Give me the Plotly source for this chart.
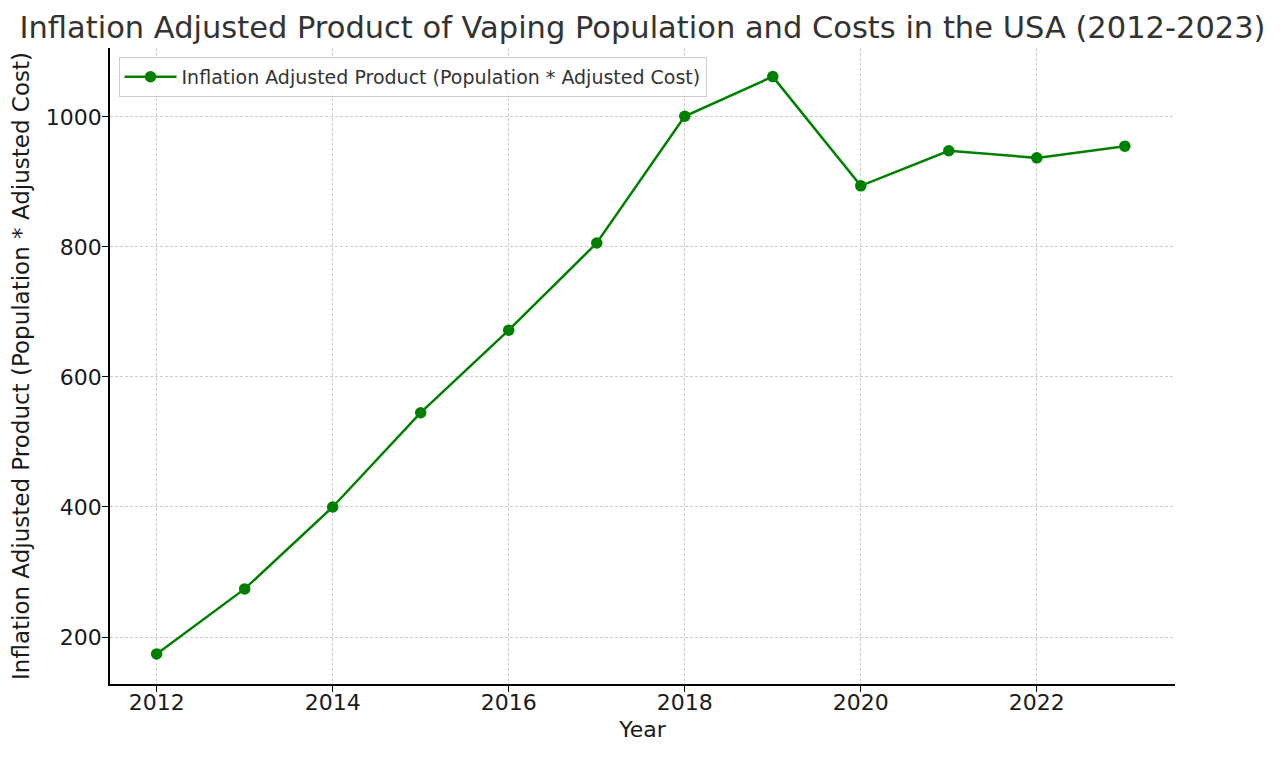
import plotly.graph_objects as go

years = [2012, 2013, 2014, 2015, 2016, 2017, 2018, 2019, 2020, 2021, 2022, 2023]
product = [174, 274, 400, 545, 672, 806, 1001, 1062, 894, 948, 937, 955]

series_name = "Inflation Adjusted Product (Population * Adjusted Cost)"
title_text = "Inflation Adjusted Product of Vaping Population and Costs in the USA (2012-2023)"
x_label = "Year"
y_label = "Inflation Adjusted Product (Population * Adjusted Cost)"

FONT = "DejaVu Sans"

fig = go.Figure()
fig.add_trace(go.Scatter(
    x=years, y=product, mode="lines+markers", name=series_name,
    line=dict(color="#008000", width=2.5),
    marker=dict(color="#008000", size=11.5),
    showlegend=True,
))

fig.update_layout(
    width=1280, height=757,
    paper_bgcolor="white", plot_bgcolor="white",
    margin=dict(l=102, r=113, t=40, b=81, autoexpand=False),
    font=dict(family=FONT, color="#1a1a1a", size=22),
    title=dict(text=title_text, x=0.5, xanchor="center", xref="paper",
               y=1 - 19 / 757, yref="container", yanchor="middle",
               font=dict(family=FONT, size=30.5, color="#333333")),
    showlegend=True,
    legend=dict(x=0.008, y=0.986, xanchor="left", yanchor="top",
                bgcolor="rgba(255,255,255,0.9)", bordercolor="#cccccc", borderwidth=1,
                itemwidth=52,
                font=dict(family=FONT, size=19, color="#333333")),
)

fig.update_xaxes(
    range=[2011.47, 2023.57], tickmode="array", tickvals=[2012, 2014, 2016, 2018, 2020, 2022],
    showline=True, linecolor="black", linewidth=1.5, mirror=False,
    ticks="outside", ticklen=6, tickwidth=1.2, tickcolor="black",
    ticklabelstandoff=-8,
    showgrid=True, gridcolor="#cccccc", griddash="3px,2px", gridwidth=1,
    zeroline=False,
    tickfont=dict(family=FONT, size=22, color="#1a1a1a"),
    title=dict(text=x_label, standoff=7, font=dict(family=FONT, size=22, color="#1a1a1a")),
)
fig.update_yaxes(
    range=[127.7, 1106], tickmode="array", tickvals=[200, 400, 600, 800, 1000],
    showline=True, linecolor="black", linewidth=1.5, mirror=False,
    ticks="outside", ticklen=6, tickwidth=1.2, tickcolor="black",
    ticklabelstandoff=-4,
    showgrid=True, gridcolor="#cccccc", griddash="3px,2px", gridwidth=1,
    zeroline=False,
    tickfont=dict(family=FONT, size=22, color="#1a1a1a"),
    title=dict(text=y_label, standoff=11, font=dict(family=FONT, size=23, color="#1a1a1a")),
)

fig.write_html("out.html")
